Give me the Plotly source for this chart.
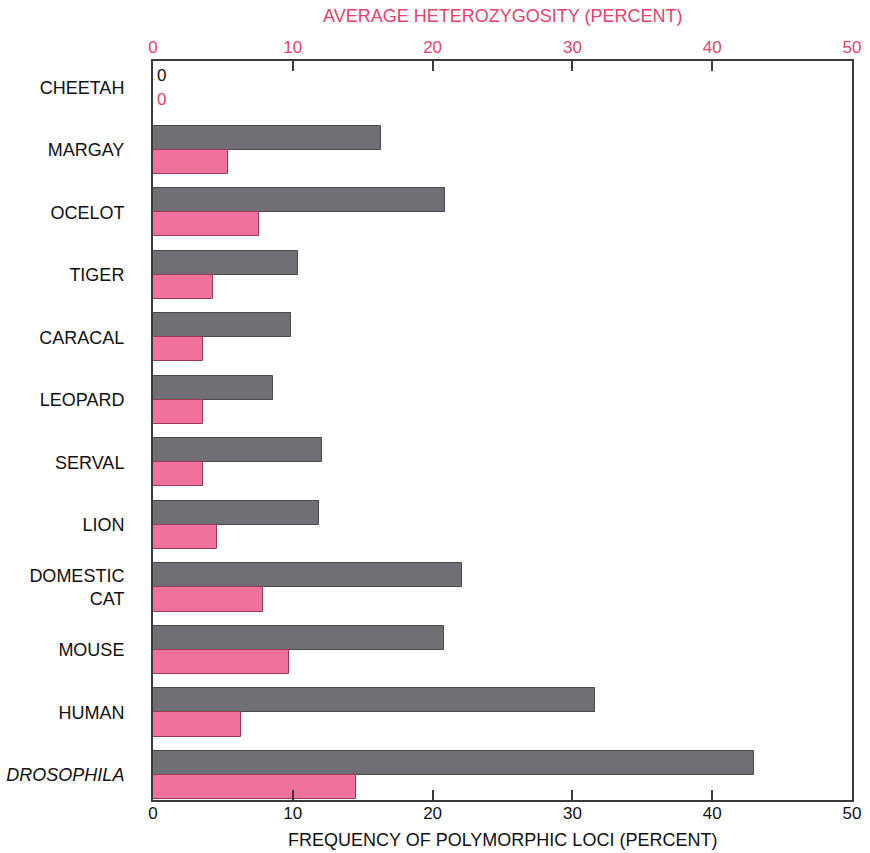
import plotly.graph_objects as go

species = ["CHEETAH", "MARGAY", "OCELOT", "TIGER", "CARACAL", "LEOPARD",
           "SERVAL", "LION", "DOMESTIC<br>CAT", "MOUSE", "HUMAN", "<i>DROSOPHILA</i>"]
polymorphic_loci = [0, 16.3, 20.9, 10.4, 9.9, 8.6, 12.1, 11.9, 22.1, 20.8, 31.6, 43.0]
heterozygosity = [0, 5.4, 7.6, 4.3, 3.6, 3.6, 3.6, 4.6, 7.9, 9.7, 6.3, 14.5]
tick_vals = [0, 10, 20, 30, 40, 50]

GRAY = "#6f6f75"
PINK = "#f0719b"
PINK_TEXT = "#e6426e"
LINE = "#3a3a3a"
FONT = "Liberation Sans, Arial, sans-serif"

pos = list(range(len(species)))
bw = 0.385

fig = go.Figure()
fig.add_trace(go.Bar(
    y=pos, x=polymorphic_loci, orientation="h", xaxis="x", yaxis="y",
    width=bw, offset=-bw, marker=dict(color=GRAY, line=dict(color="#4a4a4e", width=1)),
    showlegend=False, hoverinfo="x",
))
fig.add_trace(go.Bar(
    y=pos, x=heterozygosity, orientation="h", xaxis="x2", yaxis="y",
    width=bw, offset=0, marker=dict(color=PINK, line=dict(color="#9a3a55", width=1)),
    showlegend=False, hoverinfo="x",
))

# zero values for the cheetah, written beside the axis
fig.add_annotation(x=0, y=pos[0] - bw / 2, xref="x", yref="y", text=str(polymorphic_loci[0]),
                   showarrow=False, xanchor="left", xshift=2, font=dict(size=17, color="#111", family=FONT))
fig.add_annotation(x=0, y=pos[0] + bw / 2, xref="x2", yref="y", text=str(heterozygosity[0]),
                   showarrow=False, xanchor="left", xshift=2, font=dict(size=17, color=PINK_TEXT, family=FONT))

# axis titles
fig.add_annotation(x=0.5, y=0, xref="paper", yref="paper", yanchor="middle", yshift=-40,
                   text="FREQUENCY OF POLYMORPHIC LOCI (PERCENT)", showarrow=False,
                   font=dict(size=18, color="#111", family=FONT))
fig.add_annotation(x=0.5, y=1, xref="paper", yref="paper", yanchor="middle", yshift=45,
                   text="AVERAGE HETEROZYGOSITY (PERCENT)", showarrow=False,
                   font=dict(size=18, color=PINK_TEXT, family=FONT))

axis_common = dict(range=[0, 50], tickvals=tick_vals, ticks="inside", ticklen=10,
                   tickwidth=1.5, tickcolor=LINE, showline=True, linecolor=LINE, linewidth=2,
                   showgrid=False, zeroline=False, automargin=False)

fig.update_layout(
    width=870, height=853,
    margin=dict(l=153, r=18, t=61, b=53),
    paper_bgcolor="white", plot_bgcolor="white",
    font=dict(family=FONT, size=17, color="#111"),
    xaxis=dict(**axis_common, side="bottom", tickfont=dict(size=17, color="#111"),
               ticklabelstandoff=-3),
    xaxis2=dict(**axis_common, side="top", overlaying="x", tickfont=dict(size=17, color=PINK_TEXT),
                ticklabelstandoff=-1),
    yaxis=dict(range=[11.4, -0.42], tickvals=pos, ticktext=species,
               showline=True, linecolor=LINE, linewidth=2, mirror=True, automargin=False,
               ticks="", ticklabelstandoff=23, showgrid=False, zeroline=False,
               tickfont=dict(size=18, color="#111")),
    bargap=0,
)

fig.write_html("out.html")
